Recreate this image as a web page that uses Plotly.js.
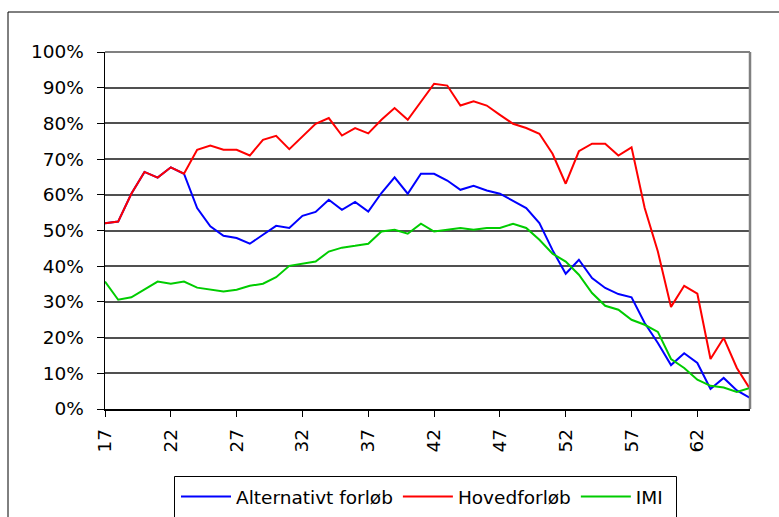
<!DOCTYPE html>
<html>
<head>
<meta charset="utf-8">
<script src="https://cdn.plot.ly/plotly-3.0.1.min.js"></script>
<style>
html,body{margin:0;padding:0;background:#fff;}
#chart{width:779px;height:517px;}
</style>
</head>
<body>
<div id="chart"></div>
<script>
var ages = [17,18,19,20,21,22,23,24,25,26,27,28,29,30,31,32,33,34,35,36,37,38,39,40,41,42,43,44,45,46,47,48,49,50,51,52,53,54,55,56,57,58,59,60,61,62,63,64,65,66];

var alternativt = [52.0,52.5,60.3,66.4,64.8,67.7,65.9,56.3,51.2,48.5,
                   47.9,46.3,48.8,51.3,50.7,54.1,55.2,58.6,55.8,58.0,
                   55.3,60.5,64.9,60.3,65.9,65.9,64.0,61.4,62.5,61.2,
                   60.3,58.2,56.3,52.1,44.5,37.9,41.8,36.7,33.9,32.2,
                   31.3,24.1,18.5,12.3,15.6,12.9,5.6,8.7,5.2,3.1];

var hovedforloeb = [52.0,52.5,60.3,66.4,64.8,67.7,65.9,72.6,73.8,72.6,
                    72.6,71.0,75.4,76.5,72.8,76.4,79.9,81.5,76.6,78.7,
                    77.2,81.0,84.3,81.0,85.9,91.1,90.6,85.0,86.2,85.0,
                    82.4,79.9,78.7,77.1,71.5,63.1,72.2,74.3,74.3,71.0,
                    73.3,56.3,44.1,28.6,34.5,32.3,14.0,19.9,11.5,5.6];

var imi = [35.7,30.6,31.3,33.4,35.7,35.1,35.7,34.0,33.4,32.9,
           33.4,34.5,35.1,36.9,40.1,40.7,41.3,44.1,45.2,45.7,
           46.3,49.7,50.2,49.1,51.9,49.7,50.2,50.7,50.2,50.7,
           50.7,51.9,50.7,47.4,43.5,41.3,37.6,32.5,28.9,27.8,
           25.0,23.6,21.6,14.0,11.5,8.2,6.5,6.0,4.8,5.9];

var seriesNames = ["Alternativt forløb","Hovedforløb","IMI"];
var xTickVals = [17,22,27,32,37,42,47,52,57,62];
var yTickVals = [0,10,20,30,40,50,60,70,80,90,100];

var FONT = "DejaVu Sans, Arial, sans-serif";

var traces = [
  {x: ages, y: alternativt, name: seriesNames[0], type: "scatter", mode: "lines",
   line: {color: "#0000FF", width: 2}},
  {x: ages, y: hovedforloeb, name: seriesNames[1], type: "scatter", mode: "lines",
   line: {color: "#FF0000", width: 2}},
  {x: ages, y: imi, name: seriesNames[2], type: "scatter", mode: "lines",
   line: {color: "#00CC00", width: 2}}
];

var L = 105, R = 750, T = 52, B = 409, W = 779, H = 517;
function px(x){ return (x - L) / (R - L); }
function py(y){ return (B - y) / (B - T); }

var layout = {
  width: W, height: H,
  margin: {l: L, r: W - R, t: T, b: H - B, pad: 0, autoexpand: false},
  paper_bgcolor: "#fff",
  plot_bgcolor: "#fff",
  font: {family: FONT, size: 18.5, color: "#000"},
  showlegend: true,
  xaxis: {
    range: [17, 66],
    tickmode: "array",
    tickvals: xTickVals,
    ticktext: xTickVals.map(String),
    tickangle: -90,
    ticks: "outside", ticklen: 6, tickwidth: 1, tickcolor: "#000",
    showgrid: false, zeroline: false,
    showline: true, linecolor: "#000", linewidth: 1.5,
    ticklabelstandoff: 5,
    tickfont: {family: FONT, size: 18.5, color: "#000"},
    automargin: false,
    fixedrange: true
  },
  yaxis: {
    range: [0, 100],
    tickmode: "array",
    tickvals: yTickVals,
    ticktext: yTickVals.map(function(v){return v + "%";}),
    ticks: "outside", ticklen: 7, tickwidth: 1, tickcolor: "#000",
    showgrid: true, gridcolor: "#505050", gridwidth: 2,
    zeroline: false,
    showline: true, linecolor: "#000", linewidth: 1.5,
    ticklabelstandoff: 9,
    tickfont: {family: FONT, size: 18.5, color: "#000"},
    automargin: false,
    fixedrange: true
  },
  legend: {
    orientation: "h",
    x: px(176), xanchor: "left",
    y: py(478), yanchor: "top",
    borderwidth: 0,
    bgcolor: "rgba(0,0,0,0)",
    font: {family: FONT, size: 18.5, color: "#000"},
    itemwidth: 50,
    tracegroupgap: 0
  },
  shapes: [
    {type: "line", xref: "paper", yref: "paper", x0: 0, x1: 1, y0: 1, y1: 1,
     line: {color: "#808080", width: 2}},
    {type: "line", xref: "paper", yref: "paper", x0: 1, x1: 1, y0: 0, y1: 1,
     line: {color: "#808080", width: 2.5}},
    {type: "rect", xref: "paper", yref: "paper",
     x0: px(8), x1: px(800), y0: py(540), y1: py(12),
     line: {color: "#000", width: 1}, layer: "below"},
    {type: "rect", xref: "paper", yref: "paper",
     x0: px(174.5), x1: px(676.5), y0: py(540), y1: py(476.5),
     line: {color: "#000", width: 1}, layer: "below"}
  ]
};

Plotly.newPlot("chart", traces, layout, {displayModeBar: false, staticPlot: true});
</script>
</body>
</html>
